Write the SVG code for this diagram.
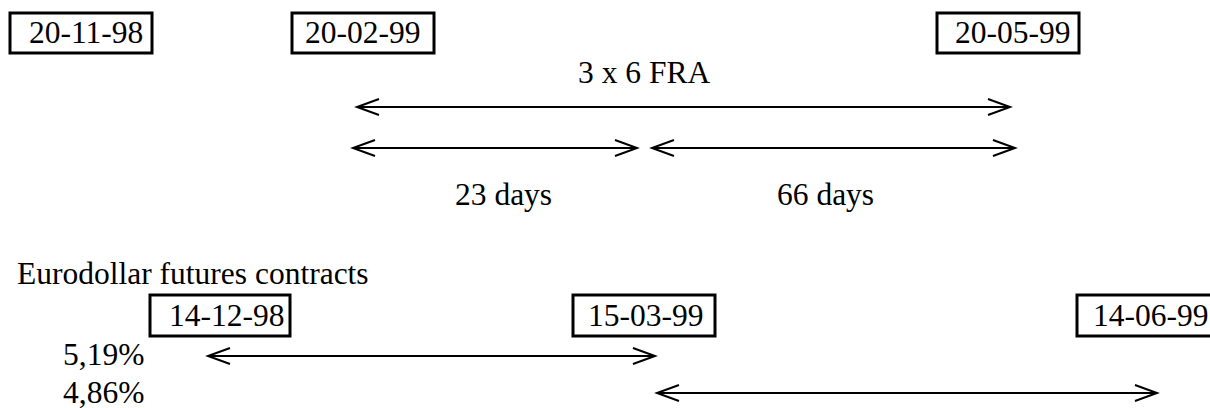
<svg xmlns="http://www.w3.org/2000/svg" width="1210" height="408" viewBox="0 0 1210 408">
  <style>
    .box { fill: #fff; stroke: #000; stroke-width: 3; }
    .t { font-family: "Liberation Serif", "Times New Roman", serif; font-size: 31.5px; fill: #000; }
    .arr { stroke: #000; stroke-width: 2; fill: none; marker-start: url(#head); marker-end: url(#head); }
  </style>
  <defs>
    <marker id="head" markerUnits="userSpaceOnUse" markerWidth="30" markerHeight="24" viewBox="-25 -12 30 24" refX="0" refY="0" orient="auto-start-reverse" overflow="visible">
      <path d="M -22 -8 L 0 0 L -22 8" fill="none" stroke="#000" stroke-width="2"/>
    </marker>
  </defs>

  <rect width="1210" height="408" fill="#fff"/>

  <!-- FRA dates -->
  <g id="d-201198">
    <rect class="box" x="10" y="13" width="142" height="40"/>
    <text class="t" x="29" y="43">20-11-98</text>
  </g>
  <g id="d-200299">
    <rect class="box" x="292" y="13" width="142" height="40"/>
    <text class="t" x="305" y="43">20-02-99</text>
  </g>
  <g id="d-200599">
    <rect class="box" x="937" y="13" width="142" height="40"/>
    <text class="t" x="955" y="43">20-05-99</text>
  </g>

  <g id="lbl-fra"><text class="t" x="578" y="83">3 x 6 FRA</text></g>
  <g id="lbl-23"><text class="t" x="455" y="205">23 days</text></g>
  <g id="lbl-66"><text class="t" x="777" y="205">66 days</text></g>

  <!-- Eurodollar futures -->
  <g id="lbl-ed"><text class="t" x="17" y="284">Eurodollar futures contracts</text></g>
  <g id="d-141298">
    <rect class="box" x="150" y="295" width="140" height="41"/>
    <text class="t" x="169" y="326">14-12-98</text>
  </g>
  <g id="d-150399">
    <rect class="box" x="573" y="295" width="142" height="41"/>
    <text class="t" x="588" y="326">15-03-99</text>
  </g>
  <g id="d-140699">
    <rect class="box" x="1077" y="295" width="150" height="41"/>
    <text class="t" x="1093" y="326">14-06-99</text>
  </g>
  <g id="r-519"><text class="t" x="63" y="365">5,19%</text></g>
  <g id="r-486"><text class="t" x="63" y="403">4,86%</text></g>

  <!-- period arrows -->
  <g id="connectors">
    <line class="arr" x1="357" y1="107" x2="1010" y2="107"/>
    <line class="arr" x1="353" y1="148" x2="637" y2="148"/>
    <line class="arr" x1="652" y1="148" x2="1015" y2="148"/>
    <line class="arr" x1="208" y1="356" x2="655" y2="356"/>
    <line class="arr" x1="657" y1="393" x2="1157" y2="393"/>
  </g>
</svg>
